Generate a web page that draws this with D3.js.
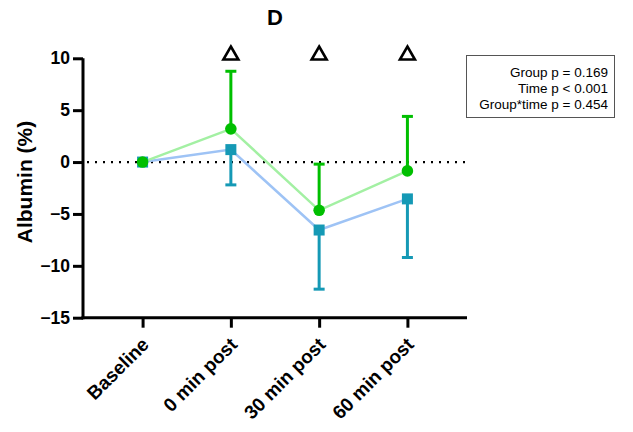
<!DOCTYPE html>
<html>
<head>
<meta charset="utf-8">
<script src="https://cdn.jsdelivr.net/npm/d3@7"></script>
<style>
  html, body { margin: 0; padding: 0; background: #fff; }
  svg { display: block; font-family: "Liberation Sans", Arial, sans-serif; }
</style>
</head>
<body>
<svg id="chart" width="633" height="432"></svg>
<script>
// Time points and group means / one-sided SD
const timePoints = ["Baseline", "0 min post", "30 min post", "60 min post"];
const greenMean = [0, 3.2, -4.65, -0.85];
const greenSD   = [0, 5.55, 4.45, 5.25];
const blueMean  = [0, 1.2, -6.55, -3.55];
const blueSD    = [0, 3.4, 5.7, 5.65];
const yTicks = [10, 5, 0, -5, -10, -15];
const markedPoints = ["0 min post", "30 min post", "60 min post"];
const statLines = ["Group p = 0.169", "Time p < 0.001", "Group*time p = 0.454"];

const svg = d3.select("#chart");
const plotLeft = 83, plotRight = 467, plotTop = 58.3, plotBottom = 317.7;
const fontStack = "Liberation Sans, Arial, sans-serif";

const x = d3.scalePoint().domain(timePoints).range([plotLeft, plotRight]).padding(0.675);
const y = d3.scaleLinear().domain([-15, 10]).range([plotBottom, plotTop]);

// Title
svg.append("text").attr("x", 275).attr("y", 25).attr("text-anchor", "middle")
  .attr("font-size", 22).attr("font-weight", "bold").text("D");

// Zero reference line
svg.append("line").attr("x1", plotLeft + 4).attr("x2", plotRight).attr("y1", y(0)).attr("y2", y(0))
  .attr("stroke", "#000").attr("stroke-width", 2.2).attr("stroke-dasharray", "2,6");

// Y axis
const yAxis = svg.append("g").attr("transform", `translate(${plotLeft},0)`)
  .call(d3.axisLeft(y).tickValues(yTicks).tickSize(10).tickPadding(3).tickFormat(d3.format("d")));
yAxis.select(".domain").attr("stroke-width", 3).attr("d", `M0,${plotBottom + 1.5}V${plotTop}`);
yAxis.selectAll(".tick line").attr("stroke-width", 3);
yAxis.selectAll(".tick text").attr("font-size", 17.5).attr("font-weight", "bold")
  .attr("font-family", fontStack).attr("fill", "#000");

// X axis with rotated category labels
const xAxis = svg.append("g").attr("transform", `translate(0,${plotBottom})`)
  .call(d3.axisBottom(x).tickSize(10));
xAxis.select(".domain").attr("stroke-width", 3).attr("d", `M${plotLeft - 1.5},0H${plotRight}`);
xAxis.selectAll(".tick line").attr("stroke-width", 3);
xAxis.selectAll(".tick text").attr("font-size", 19).attr("font-weight", "bold")
  .attr("font-family", fontStack).attr("fill", "#000")
  .attr("text-anchor", "end").attr("x", 0).attr("y", 0).attr("dy", 0)
  .attr("transform", "translate(7,28) rotate(-45)");

// Y axis title
svg.append("text").attr("transform", `translate(32,182) rotate(-90)`)
  .attr("text-anchor", "middle").attr("font-size", 21).attr("font-weight", "bold")
  .text("Albumin (%)");

// Connecting lines
const line = d3.line().x((d, i) => x(timePoints[i])).y(d => y(d));
svg.append("path").datum(blueMean).attr("d", line).attr("fill", "none")
  .attr("stroke", "#9ec3f5").attr("stroke-width", 2.5);
svg.append("path").datum(greenMean).attr("d", line).attr("fill", "none")
  .attr("stroke", "#a3f0a3").attr("stroke-width", 2.5);

// Error bars: blue downward, green upward
function errorBars(means, sds, dir, color) {
  const g = svg.append("g").attr("stroke", color).attr("stroke-width", 3);
  means.forEach((m, i) => {
    if (!sds[i]) return;
    const cx = x(timePoints[i]);
    const end = y(m + dir * sds[i]);
    g.append("line").attr("x1", cx).attr("x2", cx).attr("y1", y(m)).attr("y2", end);
    g.append("line").attr("x1", cx - 5.5).attr("x2", cx + 5.5).attr("y1", end).attr("y2", end);
  });
}
errorBars(blueMean, blueSD, -1, "#1599b5");
errorBars(greenMean, greenSD, 1, "#00bf00");

// Markers
svg.append("g").selectAll("rect").data(blueMean).join("rect")
  .attr("x", (d, i) => x(timePoints[i]) - 5.5).attr("y", d => y(d) - 5.5)
  .attr("width", 11).attr("height", 11).attr("fill", "#1599b5");
svg.append("g").selectAll("circle").data(greenMean).join("circle")
  .attr("cx", (d, i) => x(timePoints[i])).attr("cy", d => y(d)).attr("r", 5.8)
  .attr("fill", "#00bf00");

// Open triangle markers above time points
svg.append("g").selectAll("path").data(markedPoints).join("path")
  .attr("d", d => {
    const cx = x(d), cy = 53;
    return `M${cx},${cy - 6.5}L${cx + 7.5},${cy + 6.5}L${cx - 7.5},${cy + 6.5}Z`;
  })
  .attr("fill", "none").attr("stroke", "#000").attr("stroke-width", 2.6)
  .attr("stroke-linejoin", "miter");

// Statistics box
svg.append("rect").attr("x", 466.5).attr("y", 55.5).attr("width", 148).attr("height", 62)
  .attr("fill", "#fff").attr("stroke", "#555").attr("stroke-width", 1);
svg.append("g").selectAll("text").data(statLines).join("text")
  .attr("x", 608).attr("y", (d, i) => 76.5 + i * 16.2).attr("text-anchor", "end")
  .attr("font-size", 13.5).attr("fill", "#000").text(d => d);
</script>
</body>
</html>
